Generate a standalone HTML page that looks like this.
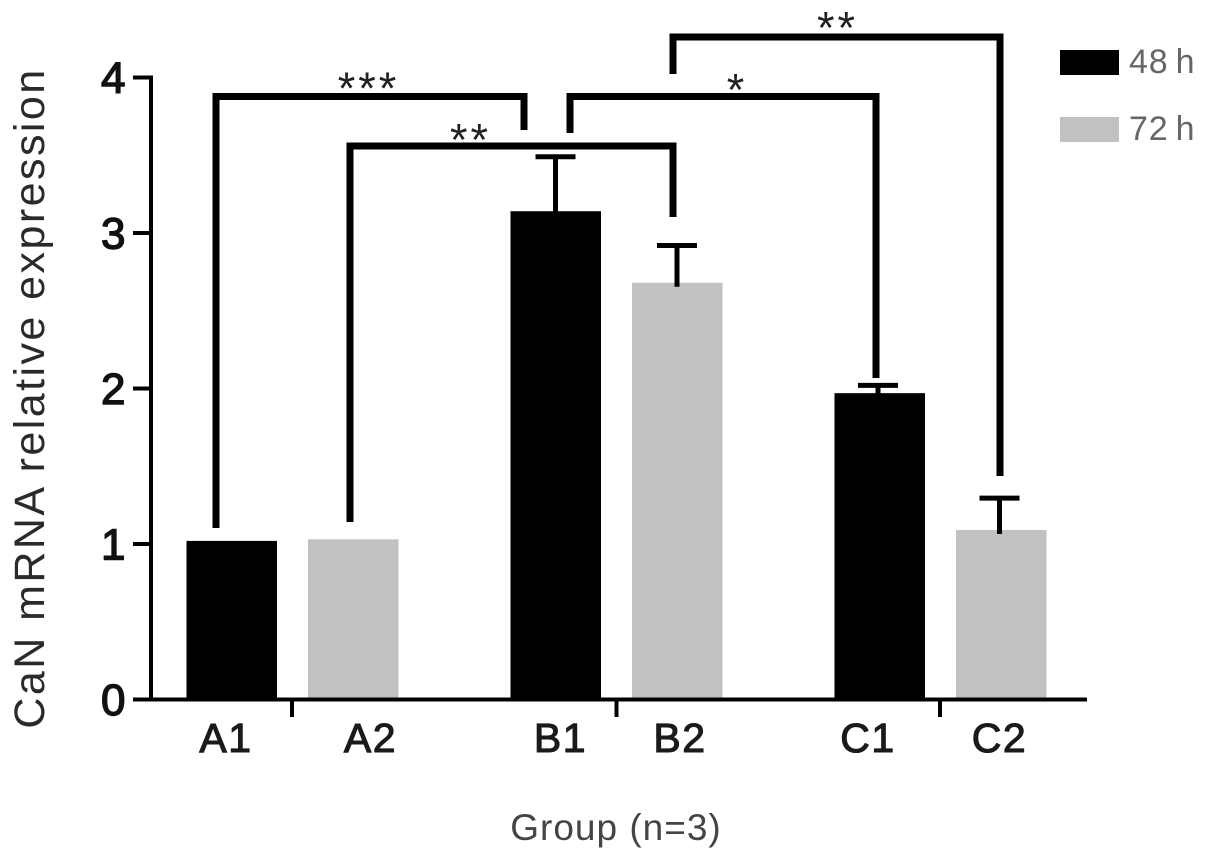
<!DOCTYPE html>
<html>
<head>
<meta charset="utf-8">
<style>
html,body{margin:0;padding:0;background:#fff;}
svg{display:block;}
text{font-family:"Liberation Sans",sans-serif;}
</style>
</head>
<body>
<svg id="chart" width="1205" height="861" viewBox="0 0 1205 861" xmlns="http://www.w3.org/2000/svg"></svg>
<script>
const categories = ['A1','A2','B1','B2','C1','C2'];
const means = [1.02,1.03,3.14,2.68,1.97,1.09];
const errors = [0,0,0.35,0.24,0.05,0.205];
const seriesOfBar = ['48 h','72 h','48 h','72 h','48 h','72 h'];
const yTicks = [0,1,2,3,4];
const legendEntries = ['48 h','72 h'];

const NS = 'http://www.w3.org/2000/svg';
const svg = document.getElementById('chart');
const colors = {'48 h':'#000','72 h':'#c1c1c1'};
const x = i => 231.5 + 324 * Math.floor(i / 2) + 121.5 * (i % 2);
const y = v => 699.5 - v * 155.5;

function add(tag, attrs, parent){
  const el = document.createElementNS(NS, tag);
  for (const k in attrs) el.setAttribute(k, attrs[k]);
  (parent || svg).appendChild(el);
  return el;
}

function drawBars(){
  const labelNudge = [-5.5,17.5,5,3,-11.5,-1.5];
  const stemNudge = [0,0,0,0,-1.5,-1.5];
  categories.forEach((c,i)=>{
    const bar = add('rect',{x:x(i)-45,y:y(means[i]),width:90.5,height:y(0)-y(means[i]),fill:colors[seriesOfBar[i]]});
    
    
    if (errors[i] > 0) {
      const sx = x(i) + stemNudge[i];
      const topY = y(means[i] + errors[i]);
      const p = add('path',{d:`M${sx} ${y(means[i])+4}V${topY}M${sx-20} ${topY}H${sx+20}`,stroke:'#000','stroke-width':5,fill:'none'});
      
      
    }
    const t = add('text',{x:x(i)+labelNudge[i],y:752,'text-anchor':'middle','font-size':41,fill:'#1a1a1a',stroke:'#1a1a1a','stroke-width':1.1,'letter-spacing':1.5});
    t.textContent = c;
    
    
  });
}
drawBars();

const yAxisTicks = yTicks.map(v=>`M133 ${y(v)}H151`).join('');
const yAxis = add('path',{d:`M151 ${y(4)-2}V${y(0)+2}` + yAxisTicks,stroke:'#000','stroke-width':4,fill:'none'});


const xAxis = add('path',{d:`M133 ${y(0)}H1087M292 ${y(0)}V717M616.5 ${y(0)}V717M940 ${y(0)}V717`,stroke:'#000','stroke-width':4,fill:'none'});



yTicks.forEach(v=>{
  const t = add('text',{x:125.5,y:y(v)+15.5,'text-anchor':'end','font-size':44,fill:'#111',stroke:'#111','stroke-width':1.4});
  t.textContent = v;
  
  
});

const yTitle = add('text',{x:0,y:0,transform:'translate(44,398) rotate(-90)','text-anchor':'middle','font-size':43,fill:'#2a2a2a','letter-spacing':2.45});
yTitle.textContent = 'CaN mRNA relative expression';



const xTitle = add('text',{x:616,y:840,'text-anchor':'middle','font-size':37,fill:'#444','letter-spacing':1});
xTitle.textContent = 'Group (n=3)';



const brackets = [
  {name:'a1-b1', d:'M216 528V96.5H524V130', label:'***', lx:368.5, ly:104},
  {name:'a2-b2', d:'M350 522V146H673V217', label:'**', lx:470.5, ly:155.5},
  {name:'b1-c1', d:'M570 133V96.5H876V378', label:'*', lx:737, ly:105.5},
  {name:'b2-c2', d:'M673 74V37H1000V476', label:'**', lx:837.5, ly:43.5}
];
brackets.forEach(b=>{
  const p = add('path',{d:b.d,stroke:'#000','stroke-width':7,fill:'none'});
  
  
  const t = add('text',{x:b.lx,y:b.ly,'text-anchor':'middle','font-size':45,fill:'#222','letter-spacing':3});
  t.textContent = b.label;
  
  
});

legendEntries.forEach((name,i)=>{
  const ly = 50 + i * 67;
  const r = add('rect',{x:1060,y:ly,width:59,height:25,fill:colors[name]});
  
  
  const t = add('text',{x:1129,y:ly+23,'font-size':34,fill:'#666','letter-spacing':0.8,'word-spacing':-3});
  t.textContent = name;
  
  
});
</script>
</body>
</html>
